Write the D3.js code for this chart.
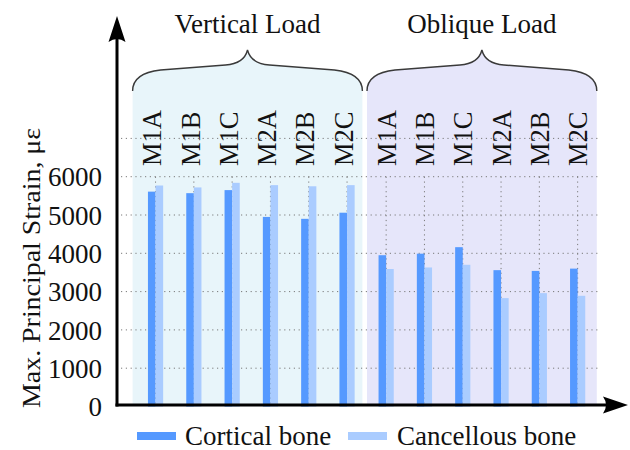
<!DOCTYPE html>
<html>
<head>
<meta charset="utf-8">
<script src="https://cdn.jsdelivr.net/npm/d3@7"></script>
<style>
  html, body { margin: 0; padding: 0; background: #fff; }
  svg { display: block; }
  text { font-family: "Liberation Serif", "Times New Roman", serif; fill: #111; }
</style>
</head>
<body>
<svg id="chart" width="630" height="450"></svg>
<script>
// Model variants and load cases
const models = ["M1A", "M1B", "M1C", "M2A", "M2B", "M2C"];
const loadCases = ["Vertical Load", "Oblique Load"];
const seriesNames = ["Cortical bone", "Cancellous bone"];

// Maximum principal strain (µε) per model
const verticalCortical   = [5610, 5570, 5650, 4950, 4900, 5060];
const verticalCancellous = [5770, 5720, 5840, 5780, 5750, 5780];
const obliqueCortical    = [3950, 3990, 4160, 3560, 3540, 3600];
const obliqueCancellous  = [3590, 3630, 3700, 2830, 2960, 2890];

const yTicks = [0, 1000, 2000, 3000, 4000, 5000, 6000];
const yGrid  = [1000, 2000, 3000, 4000, 5000, 6000, 7000];

const colors = { "Cortical bone": "#5599ff", "Cancellous bone": "#aaccff" };
const regionFill = { "Vertical Load": "#e8f5fa", "Oblique Load": "#e6e6fa" };

const groups = [
  { name: loadCases[0], series: [verticalCortical, verticalCancellous], shift: 3.8 },
  { name: loadCases[1], series: [obliqueCortical, obliqueCancellous], shift: 0 }
];

const svg = d3.select("#chart");
const axisX = 117, axisY = 405;

const y = d3.scaleLinear().domain([0, 7000]).range([406.5, 138.4]);

// Each load case occupies its own panel along the x axis
const panelExtent = { "Vertical Load": [132.6, 362.4], "Oblique Load": [367, 596.8] };
const barW = 7.6;

function bracePath(x1, x2, yb, yt) {
  const xm = (x1 + x2) / 2;
  return `M${x1},${yb} C${x1},${yb - 13} ${x1 + 10},${yb - 19} ${x1 + 28},${yb - 21}` +
    ` L${xm - 22},${yb - 26} C${xm - 8},${yb - 27} ${xm - 2},${yt + 8} ${xm},${yt}` +
    ` C${xm + 2},${yt + 8} ${xm + 8},${yb - 27} ${xm + 22},${yb - 26}` +
    ` L${x2 - 28},${yb - 21} C${x2 - 10},${yb - 19} ${x2},${yb - 13} ${x2},${yb}`;
}

const braceBottom = 91, braceTip = 50;

// Panel backgrounds bounded by the braces
groups.forEach(g => {
  const [x1, x2] = panelExtent[g.name];
  svg.append("path")
    .attr("d", bracePath(x1, x2, braceBottom, braceTip) + ` L${x2},${axisY} L${x1},${axisY} Z`)
    .attr("fill", regionFill[g.name]);
});

// Horizontal grid
svg.append("g").selectAll("line").data(yGrid).join("line")
  .attr("x1", 121).attr("x2", 601)
  .attr("y1", d => y(d)).attr("y2", d => y(d))
  .attr("stroke", "#7a7a7a").attr("stroke-width", 1)
  .attr("stroke-dasharray", "1.2,3.6");

groups.forEach(g => {
  const [x1, x2] = panelExtent[g.name];
  const xs = d3.scalePoint().domain(models).range([x1, x2]).padding(0.5);
  const gg = svg.append("g");

  // Vertical grid at each model
  gg.selectAll("line.vgrid").data(models).join("line")
    .attr("class", "vgrid")
    .attr("x1", d => xs(d) + g.shift).attr("x2", d => xs(d) + g.shift)
    .attr("y1", y(6000)).attr("y2", y(0))
    .attr("stroke", "#7a7a7a").attr("stroke-width", 1)
    .attr("stroke-dasharray", "1.2,3.6");

  // Bars
  g.series.forEach((vals, si) => {
    gg.selectAll("rect.s" + si).data(models).join("rect")
      .attr("class", "s" + si)
      .attr("x", (d) => xs(d) + g.shift + (si === 0 ? -barW : 0))
      .attr("width", barW)
      .attr("y", (d, i) => y(vals[i]))
      .attr("height", (d, i) => y(0) - y(vals[i]))
      .attr("fill", colors[seriesNames[si]]);
  });

  // Model labels (rotated)
  gg.selectAll("text.model").data(models).join("text")
    .attr("class", "model")
    .attr("transform", d => `translate(${xs(d) + 9.5},166) rotate(-90)`)
    .attr("font-size", 26.5)
    .text(d => d);

  // Brace
  gg.append("path")
    .attr("d", bracePath(x1, x2, braceBottom, braceTip))
    .attr("fill", "none").attr("stroke", "#3a3a3a").attr("stroke-width", 1.4);

  // Load case title
  gg.append("text")
    .attr("x", (x1 + x2) / 2).attr("y", 33)
    .attr("text-anchor", "middle")
    .attr("font-size", 27)
    .text(g.name);
});

// Y tick labels
const yAxis = svg.append("g")
  .attr("transform", `translate(${axisX},0)`)
  .call(d3.axisLeft(y).tickValues(yTicks).tickSize(0).tickPadding(15).tickFormat(d3.format("d")));
yAxis.select(".domain").remove();
yAxis.selectAll("text")
  .attr("font-size", 27)
  .attr("font-family", "Liberation Serif, serif")
  .attr("fill", "#111")
  .attr("dy", "0.34em");

// Axis lines with arrowheads
svg.append("line").attr("x1", axisX).attr("x2", axisX).attr("y1", axisY + 1.5).attr("y2", 36)
  .attr("stroke", "#000").attr("stroke-width", 3);
svg.append("line").attr("x1", axisX - 1.5).attr("x2", 610).attr("y1", axisY).attr("y2", axisY)
  .attr("stroke", "#000").attr("stroke-width", 3);
svg.append("path")
  .attr("d", `M${axisX},16 L${axisX + 8.5},42 Q${axisX},36 ${axisX - 8.5},42 Z`)
  .attr("fill", "#000");
svg.append("path")
  .attr("d", `M628,${axisY} L603,${axisY - 8.5} Q609,${axisY} 603,${axisY + 8.5} Z`)
  .attr("fill", "#000");

// Y axis title
svg.append("text")
  .attr("transform", "translate(40,268) rotate(-90)")
  .attr("text-anchor", "middle")
  .attr("font-size", 26)
  .attr("textLength", 280)
  .attr("lengthAdjust", "spacingAndGlyphs")
  .text("Max. Principal Strain, με");

// Legend
const legend = svg.append("g");
const legendItems = [
  { name: seriesNames[0], sx: 137, tx: 185 },
  { name: seriesNames[1], sx: 348, tx: 397 }
];
legendItems.forEach(it => {
  legend.append("rect").attr("x", it.sx).attr("y", 432).attr("width", 39).attr("height", 8)
    .attr("fill", colors[it.name]);
  legend.append("text").attr("x", it.tx).attr("y", 445).attr("font-size", 27).text(it.name);
});
</script>
</body>
</html>
